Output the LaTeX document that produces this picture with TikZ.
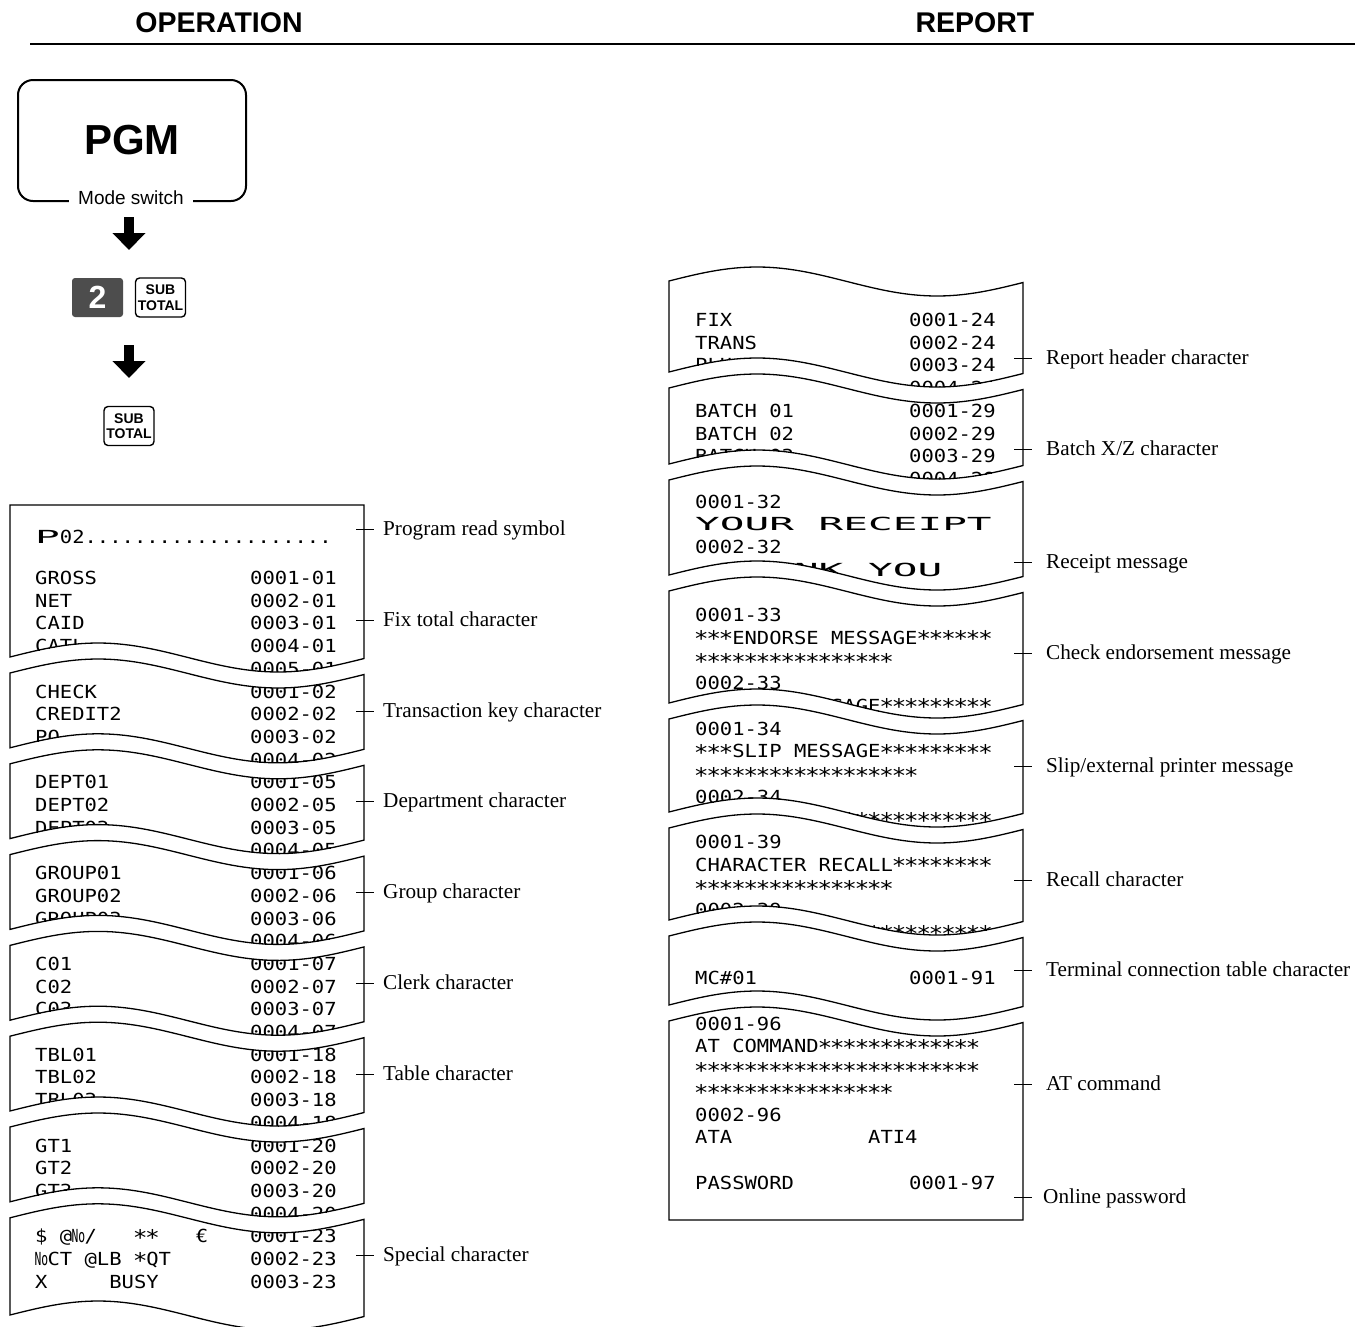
\documentclass[tikz,border=0pt]{standalone}
\usepackage{fontspec}
\usepackage{graphicx}
\usetikzlibrary{arrows.meta}
\setmainfont{Liberation Serif}
\newfontfamily\hsans{Liberation Sans}
\newfontfamily\rcpt[FakeStretch=1.14]{DejaVu Sans Mono}
\newfontfamily\rcptw[FakeStretch=2.28]{DejaVu Sans Mono}
\definecolor{keygray}{HTML}{4D4D4D}
\newcount\nn
\newcommand\bl{\hphantom{0}}
\newcommand\No{\makebox[12.35pt][c]{\scalebox{0.55}[1]{No}}}
\newcommand\st{\makebox[12.35pt][c]{\raisebox{-2.5pt}{\scalebox{1.2}{*}}}}
\newcommand\stars[1]{\foreach\ii in {1,...,#1}{\st}}
\newcommand\wtop[2]{(#1,#2) -- plot[domain=0:354,samples=60,variable=\wx] ({#1+\wx},{#2+0.5-14.5*cos(\wx-88)})}
\newcommand\wbot[2]{-- plot[domain=354:0,samples=60,variable=\wx] ({#1+\wx},{#2+0.5-14.5*cos(\wx-88)})}
\newcommand\seg[3]{\wtop{#1}{#2} \wbot{#1}{#3} -- cycle}
% left receipt rows
\newcommand\LR[3]{\global\advance\nn by 1\relax
  \node[rtxt] (t\the\nn) at (35,{584.5+22.7*#1}) {#2};
  \global\advance\nn by 1\relax
  \node[rtxt] (t\the\nn) at (250,{584.5+22.7*#1}) {#3};}
% right receipt rows
\newcommand\RR[3]{\global\advance\nn by 1\relax
  \node[rtxt] (t\the\nn) at (695,{326.5+22.7*#1}) {#2};
  \global\advance\nn by 1\relax
  \node[rtxt] (t\the\nn) at (909,{326.5+22.7*#1}) {#3};}
\newcommand\RW[2]{\global\advance\nn by 1\relax
  \node[wtxt] (t\the\nn) at (695,{326.5+22.7*#1}) {#2};}
\newcommand\LLab[3]{\node[lab] (#1) at (383,{#2+6}) {#3};
  \draw[tick] (#1.base west) ++(-27,-6) -- ++(18,0);}
\newcommand\RLab[4]{\node[lab] (#1) at (#4,{#2+6}) {#3};
  \draw[tick] (#1.base west) ++({1014-#4},-6) -- ++(18,0);}

\begin{document}
\begin{tikzpicture}[x=1pt,y=-1pt,
  rtxt/.style={anchor=base west, inner sep=0pt, font=\rcpt\fontsize{18}{18}\selectfont},
  wtxt/.style={anchor=base west, inner sep=0pt, font=\rcptw\fontsize{18}{18}\selectfont},
  lab/.style={anchor=base west, inner sep=0pt, font=\fontsize{21.2}{24}\selectfont},
  rline/.style={line width=1.3pt},
  tick/.style={line width=1pt},
  head/.style={inner sep=0pt, font=\hsans\bfseries\fontsize{28.5}{30}\selectfont},
  keyw/.style={draw, line width=1.4pt, rounded corners=4pt, minimum width=50pt, minimum height=39pt, inner sep=0pt, align=center, font=\hsans\bfseries\fontsize{14}{15.5}\selectfont},
  arr/.style={line width=10pt, -{Triangle[width=32pt,length=17pt]}}]
\fill[white] (0,0) rectangle (1355,1326);
\useasboundingbox (0,0) rectangle (1355,1326);

% header
\node[head] (hop) at (219,23) {OPERATION};
\node[head] (hrep) at (975,23) {REPORT};
\coordinate (rl) at (30,44); \coordinate (rr) at (1355,44);
\draw[line width=2.5pt] (rl) -- (rr);

% mode switch
\node[draw, line width=2pt, rounded corners=15pt, minimum width=228pt, minimum height=121pt, inner sep=0pt,
  font=\hsans\bfseries\fontsize{42}{42}\selectfont] (pgm) at (132,140.5) {PGM};
\node[fill=white, inner xsep=9pt, inner ysep=1pt, font=\hsans\fontsize{19}{20}\selectfont] (mode) at (131,198) {Mode switch};
\coordinate (a1s) at (129,217); \coordinate (a1e) at (129,250);
\draw[arr] (a1s) -- (a1e);
\node[fill=keygray, rounded corners=3pt, minimum width=51pt, minimum height=39pt, inner sep=0pt, text=white,
  font=\hsans\bfseries\fontsize{32}{32}\selectfont] (k2) at (97.5,297.5) {2};
\node[keyw] (ks1) at (160.5,297.5) {SUB\\TOTAL};
\coordinate (a2s) at (129,345); \coordinate (a2e) at (129,378);
\draw[arr] (a2s) -- (a2e);
\node[keyw] (ks2) at (129,426) {SUB\\TOTAL};

% ===== left receipt =====
\begin{scope}
\clip (10,505) -- (364,505) \wbot{10}{657} -- cycle;
\global\advance\nn by 1\relax
\node[rtxt] (t\the\nn) at (35,543.5) {{\rcptw P}02....................};
\LR{0}{GROSS}{0001-01}
\LR{1}{NET}{0002-01}
\LR{2}{CAID}{0003-01}
\LR{3}{CATL}{0004-01}
\LR{4}{CHID}{0005-01}
\end{scope}
\draw[rline] (10,505) -- (364,505) \wbot{10}{657} -- cycle;

\begin{scope}\clip \seg{10}{673}{747.8};
\LR{5}{CHECK}{0001-02}
\LR{6}{CREDIT2}{0002-02}
\LR{7}{PO}{0003-02}
\LR{8}{}{0004-02}
\end{scope}
\draw[rline] \seg{10}{673}{747.8};

\begin{scope}\clip \seg{10}{763.8}{838.6};
\LR{9}{DEPT01}{0001-05}
\LR{10}{DEPT02}{0002-05}
\LR{11}{DEPT03}{0003-05}
\LR{12}{}{0004-05}
\end{scope}
\draw[rline] \seg{10}{763.8}{838.6};

\begin{scope}\clip \seg{10}{854.6}{929.4};
\LR{13}{GROUP01}{0001-06}
\LR{14}{GROUP02}{0002-06}
\LR{15}{GROUP03}{0003-06}
\LR{16}{}{0004-06}
\end{scope}
\draw[rline] \seg{10}{854.6}{929.4};

\begin{scope}\clip \seg{10}{945.4}{1020.2};
\LR{17}{C01}{0001-07}
\LR{18}{C02}{0002-07}
\LR{19}{C03}{0003-07}
\LR{20}{}{0004-07}
\end{scope}
\draw[rline] \seg{10}{945.4}{1020.2};

\begin{scope}\clip \seg{10}{1036.2}{1111};
\LR{21}{TBL01}{0001-18}
\LR{22}{TBL02}{0002-18}
\LR{23}{TBL03}{0003-18}
\LR{24}{}{0004-18}
\end{scope}
\draw[rline] \seg{10}{1036.2}{1111};

\begin{scope}\clip \seg{10}{1127}{1201.8};
\LR{25}{GT1}{0001-20}
\LR{26}{GT2}{0002-20}
\LR{27}{GT3}{0003-20}
\LR{28}{}{0004-20}
\end{scope}
\draw[rline] \seg{10}{1127}{1201.8};

\begin{scope}\clip \seg{10}{1217.8}{1315};
\LR{29}{\$\bl@\No/\bl\bl\bl\stars{2}\bl\bl\bl€}{0001-23}
\LR{30}{\No CT\bl@LB\bl\st QT}{0002-23}
\LR{31}{X\bl\bl\bl\bl\bl BUSY}{0003-23}
\end{scope}
\draw[rline] \seg{10}{1217.8}{1315};

% left labels
\LLab{la1}{529}{Program read symbol}
\LLab{la2}{620}{Fix total character}
\LLab{la3}{711}{Transaction key character}
\LLab{la4}{801}{Department character}
\LLab{la5}{892}{Group character}
\LLab{la6}{983}{Clerk character}
\LLab{la7}{1074}{Table character}
\LLab{la8}{1255}{Special character}

% ===== right receipt =====
\begin{scope}\clip \seg{669}{281}{372};
\RR{0}{FIX}{0001-24}
\RR{1}{TRANS}{0002-24}
\RR{2}{PLU}{0003-24}
\RR{3}{}{0004-24}
\end{scope}
\draw[rline] \seg{669}{281}{372};

\begin{scope}\clip \seg{669}{388}{464};
\RR{4}{BATCH\bl01}{0001-29}
\RR{5}{BATCH\bl02}{0002-29}
\RR{6}{BATCH\bl03}{0003-29}
\RR{7}{}{0004-29}
\end{scope}
\draw[rline] \seg{669}{388}{464};

\begin{scope}\clip \seg{669}{480}{575};
\RR{8}{0001-32}{}
\RW{9}{YOUR\bl RECEIPT}
\RR{10}{0002-32}{}
\RW{11}{\bl THANK\bl YOU}
\RR{12}{0003-32}{}
\end{scope}
\draw[rline] \seg{669}{480}{575};

\begin{scope}\clip \seg{669}{591}{703};
\RR{13}{0001-33}{}
\RR{14}{\stars{3}ENDORSE\bl MESSAGE\stars{6}}{}
\RR{15}{\stars{16}}{}
\RR{16}{0002-33}{}
\RR{17}{ENDORSE\bl MESSAGE\stars{9}}{}
\end{scope}
\draw[rline] \seg{669}{591}{703};

\begin{scope}\clip \seg{669}{719}{812};
\RR{18}{0001-34}{}
\RR{19}{\stars{3}SLIP\bl MESSAGE\stars{9}}{}
\RR{20}{\stars{18}}{}
\RR{21}{0002-34}{}
\RR{22}{SLIP\bl MESSAGE\stars{12}}{}
\end{scope}
\draw[rline] \seg{669}{719}{812};

\begin{scope}\clip \seg{669}{828}{920};
\RR{23}{0001-39}{}
\RR{24}{CHARACTER\bl RECALL\stars{8}}{}
\RR{25}{\stars{16}}{}
\RR{26}{0002-39}{}
\RR{27}{CHARACTER2\stars{14}}{}
\end{scope}
\draw[rline] \seg{669}{828}{920};

\begin{scope}\clip \seg{669}{936}{1005};
\RR{29}{MC\#01}{0001-91}
\end{scope}
\draw[rline] \seg{669}{936}{1005};

\begin{scope}\clip \wtop{669}{1021} -- (1023,1220) -- (669,1220) -- cycle;
\RR{31}{0001-96}{}
\RR{32}{AT\bl COMMAND\stars{13}}{}
\RR{33}{\stars{23}}{}
\RR{34}{\stars{16}}{}
\RR{35}{0002-96}{}
\RR{36}{ATA\bl\bl\bl\bl\bl\bl\bl\bl\bl\bl\bl ATI4}{}
\RR{38}{PASSWORD}{0001-97}
\end{scope}
\draw[rline] \wtop{669}{1021} -- (1023,1220) -- (669,1220) -- cycle;

% right labels
\RLab{ra1}{358}{Report header character}{1046}
\RLab{ra2}{449}{Batch X/Z character}{1046}
\RLab{ra3}{562}{Receipt message}{1046}
\RLab{ra4}{653}{Check endorsement message}{1046}
\RLab{ra5}{766}{Slip/external printer message}{1046}
\RLab{ra6}{880}{Recall character}{1046}
\RLab{ra7}{970}{Terminal connection table character}{1046}
\RLab{ra8}{1084}{AT command}{1046}
\RLab{ra9}{1197}{Online password}{1043}
\end{tikzpicture}
\end{document}
